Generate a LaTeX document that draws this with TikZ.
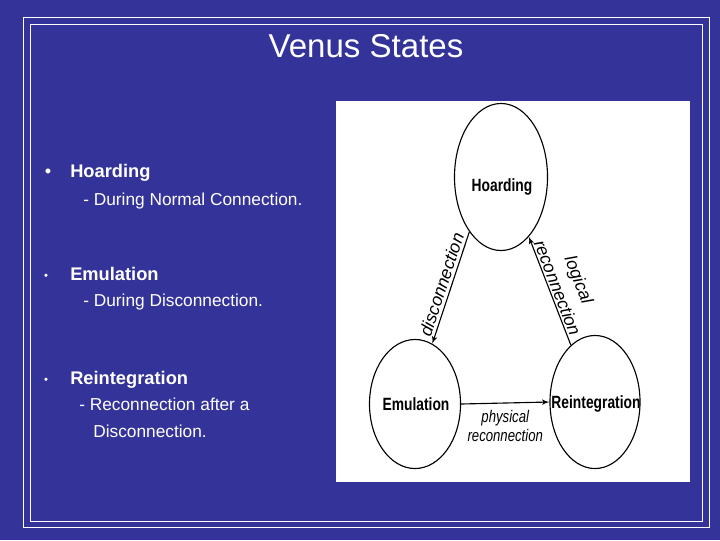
\documentclass[tikz,border=0pt]{standalone}
\usepackage{fontspec}
\setmainfont{Liberation Sans}
\newfontfamily\figfont[FakeStretch=0.78]{Liberation Sans}
\usetikzlibrary{arrows, shapes, positioning, calc}
\definecolor{slideblue}{RGB}{51,51,153}
\tikzset{
         mystate/.style={draw, ellipse, line width=.8pt, inner sep=0pt},
         mytext/.style={font=\figfont\bfseries\fontsize{12.6}{15}\selectfont, inner sep=0pt},
         myhead/.style={anchor=base west, inner sep=0pt, text=white, font=\bfseries\fontsize{13}{15}\selectfont},
         mysub/.style={anchor=base west, inner sep=0pt, text=white, font=\fontsize{12.3}{14}\selectfont},
         mydot/.style={anchor=base, inner sep=0pt, text=white}
      }

\begin{document}
\begin{tikzpicture}[x=0.025cm, y=-0.025cm, >=latex', auto]
                  \tikzstyle{line} = [draw, line width=.8pt, ->, font=\itshape\fontsize{12.5}{16.5}\selectfont]
                     % slide
                     \useasboundingbox (0,0) rectangle (720,540);
                     \fill[slideblue] (0,0) rectangle (720,540);
                     \draw[white, line width=.7pt] (23,17) rectangle (709,527);
                     \draw[white, line width=.7pt] (30,24) rectangle (702,521);
                     \node[anchor=base, text=white, font=\fontsize{23.5}{26}\selectfont] (title) at (366,57) {Venus States};

                     % bullets
                     \node[mydot, font=\fontsize{13}{15}\selectfont] (dot1) at (48,177) {\textbullet};
                     \node[myhead] (head1) at (70,177) {Hoarding};
                     \node[mysub] (sub1) at (83,205) {- During Normal Connection.};
                     \node[mydot, font=\fontsize{8}{10}\selectfont] (dot2) at (46,279) {\textbullet};
                     \node[myhead] (head2) at (70,280) {Emulation};
                     \node[mysub] (sub2) at (83,306) {- During Disconnection.};
                     \node[mydot, font=\fontsize{8}{10}\selectfont] (dot3) at (46,383) {\textbullet};
                     \node[myhead] (head3) at (70,384) {Reintegration};
                     \node[mysub] (sub3) at (79,410) {- Reconnection after a};
                     \node[mysub] (sub4) at (93,437) {Disconnection.};

                     % state diagram
                     \fill[white] (336,101) rectangle (690,482);
                     \node[mystate, minimum width=2.325cm, minimum height=3.675cm] (hoard) at (501,177) {};
                     \node[mystate, minimum width=2.275cm, minimum height=3.225cm] (emul) at (415,404) {};
                     \node[mystate, minimum width=2.25cm, minimum height=3.325cm] (reint) at (595,402) {};
                     \node[mytext] (hoardtxt) at (502,187) {Hoarding};
                     \node[mytext] (emultxt) at (416,404) {Emulation};
                     \node[mytext] (reinttxt) at (596,404) {Reintegration};

                     \path [line] (hoard.240) -- node[sloped, above, inner sep=2pt] (disc) {disconnection} (emul.74);
                     \path [line] (reint.113) -- node[sloped, above, align=center, inner sep=1pt] (logic) {logical\\reconnection} (hoard.295);
                     \path [line] (emul.east) -- node[below, align=center, inner sep=5pt, font=\figfont\itshape\fontsize{12}{13.5}\selectfont] (phys) {physical\\reconnection} (reint.west);
               \end{tikzpicture}
\end{document}
